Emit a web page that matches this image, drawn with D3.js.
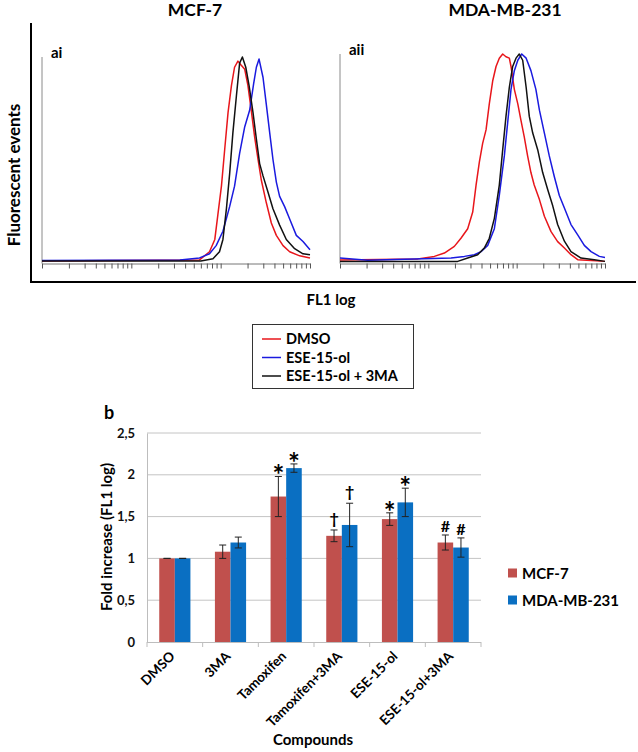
<!DOCTYPE html>
<html><head><meta charset="utf-8">
<script src="https://cdn.jsdelivr.net/npm/d3@7"></script>
<style>body{margin:0;background:#fff}svg{display:block}text{font-family:Lato,"Open Sans",sans-serif;font-weight:bold}</style>
</head><body>
<svg id="c" width="638" height="752"></svg>
<script>
// ---- Histogram data: [FL1 intensity, relative events] ----
const mcf7_DMSO = [[1,0.5],[58,1],[75,5],[86,11],[93,23],[102,37],[111,55],[121,73],[132,86],[143,95],[156,98],[170,96],[186,94],[202,86],[220,74],[240,61],[262,50],[285,40],[324,29],[369,19],[420,13],[499,8],[592,5],[766,3],[1000,2]];
const mcf7_ESE = [[1,0.7],[35,1],[58,2],[75,4],[89,8],[106,15],[126,27],[143,37],[163,53],[186,66],[211,74],[234,87],[251,95],[269,99],[298,90],[324,77],[354,63],[385,50],[420,39],[457,32],[520,27],[592,21],[703,13],[835,10],[1000,6]];
const mcf7_ESE3MA = [[1,0.5],[60,0.5],[82,1.6],[97,5],[106,11],[116,26],[126,43],[137,63],[150,81],[163,97],[175,100],[191,95],[208,86],[230,73],[251,60],[273,48],[298,42],[339,34],[385,26],[457,18],[543,11],[673,6.5],[835,4],[1000,3.5]];
const mda_DMSO = [[1,1],[7.6,1.5],[11.7,2.7],[15.2,4.3],[19.7,7.5],[23.4,11.4],[27.9,16],[31.8,24],[34.7,37],[37.8,48],[41.2,57],[45,63.5],[49,76],[53.5,87],[58.4,94],[63.6,98],[69.5,100],[75.7,98.7],[82.6,98],[86.3,94],[94.1,83],[103,76],[112,68],[122,60],[133,51],[145,43],[158,37],[181,30],[206,22],[245,14.6],[291,9.8],[347,6.7],[412,3.5],[491,1.1],[1000,0.3]];
const mda_ESE = [[1,1.9],[2.06,0.8],[18.1,1.9],[25.6,2.7],[33.2,3.5],[39.5,5],[47,8],[55.9,16],[63.6,32],[72.5,51],[79.1,67],[86.3,83],[94.1,92],[103,97],[114,100],[128,98],[145,92],[165,83],[181,73],[206,62],[234,51],[267,41],[304,32],[347,26],[412,18],[491,13],[583,8],[695,5],[863,2.7],[1000,2.2]];
const mda_ESE3MA = [[1,0.3],[21.5,0.3],[27.9,1.9],[36.2,3.5],[43,6.7],[49,11.4],[55.9,21],[63.6,37],[69.5,54],[75.7,70],[82.6,84],[90.1,94],[98.3,98],[107,100],[117,97],[128,84],[139,70],[152,62],[173,54],[197,43],[224,35],[256,27],[291,18],[347,10],[412,5],[535,1.9],[757,1.1],[1000,0.3]];
const histSeries = ["DMSO","ESE-15-ol","ESE-15-ol + 3MA"];
const histColors = ["#e8161b","#1a1adf","#111111"];

// ---- Bar chart data ----
const categories = ["DMSO","3MA","Tamoxifen","Tamoxifen+3MA","ESE-15-ol","ESE-15-ol+3MA"];
const barSeries = ["MCF-7","MDA-MB-231"];
const mcf7Mean = [1.00,1.08,1.74,1.27,1.47,1.19];
const mcf7Err  = [0.00,0.08,0.24,0.07,0.075,0.09];
const mdaMean  = [1.00,1.19,2.08,1.40,1.67,1.13];
const mdaErr   = [0.00,0.065,0.05,0.26,0.17,0.115];
const mcf7Sig  = ["","","*","†","*","#"];
const mdaSig   = ["","","*","†","*","#"];
const yTicks = [0,0.5,1,1.5,2,2.5];
const barColors = ["#c0504d","#0a6fc2"];

const svg = d3.select("#c");

// ===== Top histograms =====
svg.append("line").attr("x1",31).attr("x2",31).attr("y1",23).attr("y2",282).attr("stroke","#000").attr("stroke-width",2);
svg.append("line").attr("x1",30).attr("x2",636).attr("y1",282).attr("y2",282).attr("stroke","#000").attr("stroke-width",2);
svg.append("text").attr("transform","translate(20,175) rotate(-90)").attr("text-anchor","middle").attr("font-size",17).text("Fluorescent events");
svg.append("text").attr("x",331).attr("y",305).attr("text-anchor","middle").attr("font-size",15).text("FL1 log");

const panels = [
  {title:"MCF-7", tx:195, tag:"ai", x0:42, x1:310, yTop:57, data:[mcf7_DMSO,mcf7_ESE,mcf7_ESE3MA]},
  {title:"MDA-MB-231", tx:505, tag:"aii", x0:340, x1:605, yTop:54, data:[mda_DMSO,mda_ESE,mda_ESE3MA]}
];
panels.forEach(p=>{
  const x = d3.scaleLog().domain([1,1000]).range([p.x0,p.x1]);
  const y = d3.scaleLinear().domain([0,100]).range([262,p.yTop]);
  svg.append("text").attr("x",p.tx).attr("y",16).attr("text-anchor","middle").attr("font-size",17.5).text(p.title);
  svg.append("text").attr("x",p.x0+9).attr("y",p.yTop+1).attr("font-size",15).text(p.tag);
  svg.append("line").attr("x1",p.x0).attr("x2",p.x0).attr("y1",p.yTop).attr("y2",263.5).attr("stroke","#8a8a8a").attr("stroke-width",1);
  const ax = svg.append("g").attr("transform","translate(0,263.5)")
    .call(d3.axisBottom(x).tickValues(x.ticks()).tickFormat("").tickSize(5).tickSizeOuter(0));
  ax.select(".domain").attr("stroke","#777");
  ax.selectAll(".tick line").attr("stroke","#555");
  const line = d3.line().x(d=>x(d[0])).y(d=>y(d[1]));
  p.data.forEach((d,i)=>{
    svg.append("path").datum(d).attr("d",line).attr("fill","none").attr("stroke",histColors[i]).attr("stroke-width",1.5).attr("stroke-linejoin","round");
  });
});

// legend
svg.append("rect").attr("x",252.5).attr("y",324.5).attr("width",161).attr("height",64).attr("fill","#fff").attr("stroke","#333").attr("stroke-width",1);
histSeries.forEach((s,i)=>{
  const yy = 339 + i*18.5;
  svg.append("line").attr("x1",262).attr("x2",281).attr("y1",yy).attr("y2",yy).attr("stroke",histColors[i]).attr("stroke-width",1.5);
  svg.append("text").attr("x",286).attr("y",yy+5).attr("font-size",14.5).text(s);
});

// ===== Bar chart =====
const bx = d3.scaleBand().domain(categories).range([147,481]).paddingInner(0.44).paddingOuter(0.22);
const bs = d3.scaleBand().domain(barSeries).range([0,bx.bandwidth()]);
const by = d3.scaleLinear().domain([0,2.5]).range([642,433]);

svg.append("text").attr("x",104).attr("y",419).attr("font-size",18).text("b");
// grid
svg.append("g").selectAll("line").data(yTicks.filter(d=>d>0)).join("line")
  .attr("x1",147).attr("x2",481).attr("y1",d=>by(d)).attr("y2",d=>by(d)).attr("stroke","#c4c4c4").attr("stroke-width",1);
const yAx = svg.append("g").attr("transform","translate(147,0)")
  .call(d3.axisLeft(by).tickValues(yTicks).tickSize(0).tickPadding(12).tickFormat(d=>String(d).replace(".",",")));
yAx.select(".domain").attr("stroke","#bdbdbd");
yAx.selectAll("text").attr("font-size",13).attr("font-family","Lato").attr("font-weight","bold").attr("fill","#111");

const bars = [
  {mean:mcf7Mean, err:mcf7Err, sig:mcf7Sig, s:barSeries[0], c:barColors[0]},
  {mean:mdaMean, err:mdaErr, sig:mdaSig, s:barSeries[1], c:barColors[1]}
];
bars.forEach(b=>{
  categories.forEach((cat,i)=>{
    const x0 = bx(cat)+bs(b.s), w = bs.bandwidth(), cx = x0+w/2;
    svg.append("rect").attr("x",x0).attr("y",by(b.mean[i])).attr("width",w).attr("height",by(0)-by(b.mean[i])).attr("fill",b.c);
    const hi = b.mean[i]+b.err[i], lo = b.mean[i]-b.err[i];
    const g = svg.append("g").attr("stroke","#222").attr("stroke-width",1);
    g.append("line").attr("x1",cx).attr("x2",cx).attr("y1",by(hi)).attr("y2",by(lo));
    g.append("line").attr("x1",cx-3.5).attr("x2",cx+3.5).attr("y1",by(hi)).attr("y2",by(hi));
    g.append("line").attr("x1",cx-3.5).attr("x2",cx+3.5).attr("y1",by(lo)).attr("y2",by(lo));
    if (b.sig[i]) {
      const s = b.sig[i];
      const off = s==="*" ? 9 : (s==="†" ? -6 : -3);
      svg.append("text").attr("x",cx).attr("y",by(hi)+off).attr("text-anchor","middle")
        .attr("font-size",s==="*"?28:16).attr("font-family","DejaVu Sans").attr("font-weight","bold").text(s);
    }
  });
});
// x axis
svg.append("line").attr("x1",147).attr("x2",481).attr("y1",642.5).attr("y2",642.5).attr("stroke","#bdbdbd");
const bounds = categories.map(c=>bx(c)-bx.step()*bx.paddingOuter()).concat([481]);
svg.append("g").selectAll("line").data(bounds).join("line")
  .attr("x1",d=>d).attr("x2",d=>d).attr("y1",642).attr("y2",647).attr("stroke","#bdbdbd");
svg.append("g").selectAll("text").data(categories).join("text")
  .attr("transform",d=>`translate(${bx(d)+bx.bandwidth()/2+1},${657}) rotate(-45)`)
  .attr("text-anchor","end").attr("font-size",13.5).text(d=>d);
svg.append("text").attr("x",313).attr("y",745).attr("text-anchor","middle").attr("font-size",15).text("Compounds");
svg.append("text").attr("transform","translate(112,537) rotate(-90)").attr("text-anchor","middle").attr("font-size",15).text("Fold increase (FL1 log)");
// bar legend
barSeries.forEach((s,i)=>{
  const yy = 573 + i*27;
  svg.append("rect").attr("x",508).attr("y",yy-4.5).attr("width",9).attr("height",9).attr("fill",barColors[i]);
  svg.append("text").attr("x",522).attr("y",yy+5.5).attr("font-size",15).text(s);
});
</script>
</body></html>
